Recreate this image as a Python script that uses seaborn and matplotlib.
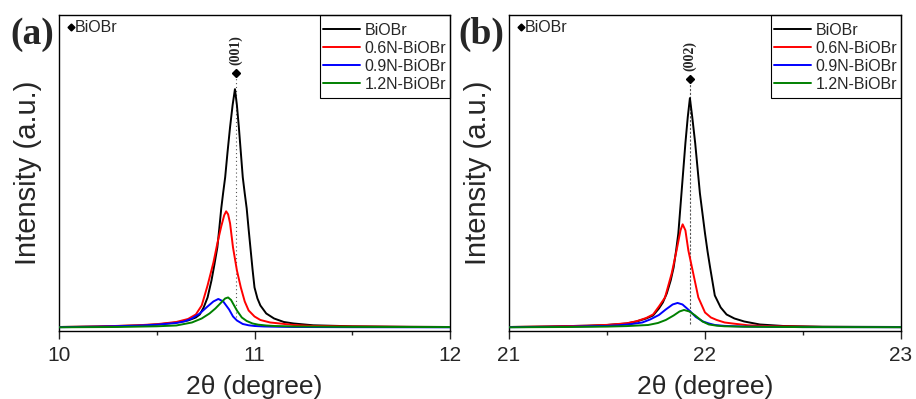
import matplotlib
matplotlib.use("Agg")
import matplotlib.pyplot as plt
import seaborn as sns
import pandas as pd
from matplotlib.lines import Line2D
from matplotlib.patches import Rectangle

# ---------------- data (intensity, arbitrary units) ----------------
samples = ["BiOBr", "0.6N-BiOBr", "0.9N-BiOBr", "1.2N-BiOBr"]
colors = ["#000000", "#ff0000", "#0000ff", "#008000"]

# Panel (a): (001) reflection
a_black_x = [10.0, 10.2, 10.4, 10.5, 10.6, 10.66, 10.7, 10.72, 10.74, 10.76, 10.78, 10.795, 10.81, 10.82,
             10.83, 10.84, 10.85, 10.862, 10.875, 10.888, 10.90, 10.91, 10.92, 10.93, 10.94, 10.95, 10.96,
             10.97, 10.98, 10.99, 11.0, 11.015, 11.03, 11.06, 11.1, 11.15, 11.2, 11.3, 11.5, 11.8, 12.0]
a_black_y = [0.5, 1.0, 2.0, 3.0, 5.0, 7.0, 10, 13, 20, 30, 47, 63, 80, 99,
             119, 135, 150, 175, 200, 222, 238, 222, 200, 175, 150, 134, 119,
             98, 78, 58, 40, 29, 22, 14, 9, 5.5, 4, 2.2, 1.2, 0.7, 0.5]
a_red_x = [10.0, 10.2, 10.4, 10.5, 10.6, 10.66, 10.7, 10.73, 10.76, 10.79, 10.81, 10.83, 10.845, 10.855,
           10.865, 10.875, 10.89, 10.91, 10.93, 10.95, 10.97, 11.0, 11.03, 11.08, 11.13, 11.2, 11.3, 11.5, 11.8, 12.0]
a_red_y = [0.5, 1.0, 2.2, 3.3, 5.5, 8.5, 13, 22, 42, 65, 84, 101, 112, 116,
           113, 104, 80, 57, 40, 26, 17, 11, 7.5, 5, 4, 2.5, 1.5, 1.0, 0.6, 0.5]
a_blue_x = [10.0, 10.2, 10.4, 10.5, 10.6, 10.64, 10.68, 10.72, 10.76, 10.79, 10.815, 10.84, 10.87,
            10.89, 10.91, 10.94, 10.97, 11.0, 11.05, 11.1, 11.2, 11.5, 12.0]
a_blue_y = [0.3, 0.8, 1.8, 2.8, 4.5, 6, 9, 14, 21, 26, 28.5, 26, 18,
            11, 7, 3.5, 2.2, 1.5, 1.0, 0.8, 0.5, 0.3, 0.2]
a_green_x = [10.0, 10.3, 10.5, 10.6, 10.68, 10.73, 10.77, 10.8, 10.83, 10.85, 10.865, 10.88, 10.91,
             10.935, 10.96, 10.99, 11.02, 11.06, 11.1, 11.2, 11.5, 12.0]
a_green_y = [0.2, 0.5, 1.2, 2, 5, 9, 14, 19, 25, 29, 30, 27.5, 17,
             10, 6.5, 4, 2.8, 2, 1.5, 1.0, 0.6, 0.4]

# Panel (b): (002) reflection
b_black_x = [21.0, 21.2, 21.4, 21.5, 21.6, 21.65, 21.7, 21.735, 21.765, 21.785, 21.805, 21.825, 21.84,
             21.852, 21.864, 21.88, 21.90, 21.912, 21.923, 21.935, 21.95, 21.974, 22.0, 22.013, 22.026,
             22.05, 22.08, 22.11, 22.15, 22.2, 22.28, 22.4, 22.6, 23.0]
b_black_y = [0.5, 1.0, 1.8, 2.5, 4, 6, 9, 12, 19, 25, 34, 47, 60,
             76, 94, 134, 184, 210, 229, 210, 184, 134, 94, 76, 60,
             32, 20, 13, 9, 6, 3, 1.5, 0.8, 0.5]
b_red_x = [21.0, 21.2, 21.4, 21.5, 21.6, 21.65, 21.7, 21.735, 21.765, 21.796, 21.83, 21.855, 21.875,
           21.886, 21.9, 21.915, 21.94, 21.966, 22.0, 22.03, 22.06, 22.1, 22.14, 22.22, 22.35, 22.6, 23.0]
b_red_y = [0.5, 1.0, 1.8, 2.6, 4.2, 6.2, 9.5, 13, 21, 30, 54, 77, 97,
           103, 97, 77, 54, 30, 15, 10, 7.5, 5, 4, 2.2, 1.2, 0.6, 0.4]
b_blue_x = [21.0, 21.3, 21.5, 21.56, 21.62, 21.68, 21.72, 21.765, 21.8, 21.835, 21.86, 21.885, 21.92,
            21.953, 21.99, 22.02, 22.05, 22.1, 22.2, 22.5, 23.0]
b_blue_y = [0.3, 0.8, 1.6, 2.2, 3.3, 5, 8, 12.5, 18, 23, 24.5, 23, 17,
            10.5, 6, 4, 2.5, 1.6, 0.9, 0.4, 0.3]
b_green_x = [21.0, 21.3, 21.5, 21.6, 21.71, 21.76, 21.8, 21.84, 21.87, 21.893, 21.92, 21.95, 21.987,
             22.02, 22.06, 22.1, 22.2, 22.5, 23.0]
b_green_y = [0.2, 0.5, 0.9, 1.4, 2.5, 4.5, 7.5, 12, 16, 17.5, 16, 12, 6,
             3, 1.8, 1.2, 0.8, 0.4, 0.3]

# reference peak positions / marker heights
a_peak_x, a_marker_y, a_line_bottom = 10.905, 254, 10
b_peak_x, b_marker_y, b_line_bottom = 21.923, 248, 3
a_hkl, b_hkl = "(001)", "(002)"
a_ticks, b_ticks = [10, 11, 12], [21, 22, 23]
phase_label = "BiOBr"

# ---------------- style ----------------
sns.set_style("ticks")
plt.rcParams["font.family"] = ["Liberation Sans", "DejaVu Sans"]
plt.rcParams["axes.linewidth"] = 1.0

fig = plt.figure(figsize=(9.16, 3.99), dpi=100)
ax_a = fig.add_axes([59 / 916, 1 - 331 / 399, 391 / 916, 316 / 399])
ax_b = fig.add_axes([509 / 916, 1 - 331 / 399, 392 / 916, 316 / 399])


def build(xs, ys):
    frames = []
    for s, x, y in zip(samples, xs, ys):
        frames.append(pd.DataFrame({"x": x, "y": y, "sample": s}))
    return pd.concat(frames, ignore_index=True)


df_a = build([a_black_x, a_red_x, a_blue_x, a_green_x], [a_black_y, a_red_y, a_blue_y, a_green_y])
df_b = build([b_black_x, b_red_x, b_blue_x, b_green_x], [b_black_y, b_red_y, b_blue_y, b_green_y])

pal = dict(zip(samples, colors))

for ax, df, ticks, px, my, lb, hkl, lab, lbl_x, dash in [
    (ax_a, df_a, a_ticks, a_peak_x, a_marker_y, a_line_bottom, a_hkl, "(a)", 32 / 916, (0, (1, 2.5))),
    (ax_b, df_b, b_ticks, b_peak_x, b_marker_y, b_line_bottom, b_hkl, "(b)", 481 / 916, (0, (2, 1.5))),
]:
    ax.plot([px, px], [lb, my], color="#555555", lw=0.8, ls=dash, zorder=1)
    sns.lineplot(data=df, x="x", y="y", hue="sample", palette=pal, hue_order=samples,
                 estimator=None, sort=False, ax=ax, linewidth=1.4, legend=False, zorder=3)
    ax.plot([px], [my], marker="D", ms=4.5, color="black", zorder=4, clip_on=False)
    ax.text(px, my + 8, hkl, rotation=90, ha="center", va="bottom",
            family=["Liberation Serif", "DejaVu Serif"], fontweight="bold", fontsize=10)

    ax.set_xlim(ticks[0], ticks[-1])
    ax.set_ylim(-3.5, 312)
    ax.set_xticks(ticks)
    ax.set_xticks([ticks[0] + 0.5, ticks[1] + 0.5], minor=True)
    ax.set_yticks([])
    ax.tick_params(axis="x", which="major", length=6, width=1.0, pad=5, labelsize=15, direction="out")
    ax.tick_params(axis="x", which="minor", length=3, width=1.0, direction="out")
    for sp in ax.spines.values():
        sp.set_visible(True)
        sp.set_color("black")
        sp.set_linewidth(1.0)
    ax.set_xlabel("2\u03b8 (degree)", fontsize=19, labelpad=7)
    ax.set_ylabel("Intensity (a.u.)", fontsize=21, labelpad=12)

    ax.plot([0.03], [0.962], marker="D", ms=3.5, color="black", transform=ax.transAxes,
            clip_on=False, zorder=5)
    ax.text(0.041, 0.962, phase_label, transform=ax.transAxes, ha="left", va="center", fontsize=11.5)

    handles = [Line2D([], [], color=c, lw=1.4) for c in colors]
    ax.legend(handles, samples, loc="upper right", bbox_to_anchor=(1.0, 1 - 4 / 316), frameon=False,
              borderaxespad=0, handlelength=2.3, handletextpad=0.3,
              labelspacing=0.18, borderpad=0.25, fontsize=11.5)
    ax.add_patch(Rectangle((0.6675, 0.737), 0.3325, 0.263, transform=ax.transAxes, fill=False,
                           edgecolor="black", lw=0.8, zorder=6, clip_on=False))

    fig.text(lbl_x, 1 - 34 / 399, lab, ha="center", va="center", fontsize=27, fontweight="bold",
             family=["Liberation Serif", "DejaVu Serif"])

fig.savefig("out.png", dpi=100)
